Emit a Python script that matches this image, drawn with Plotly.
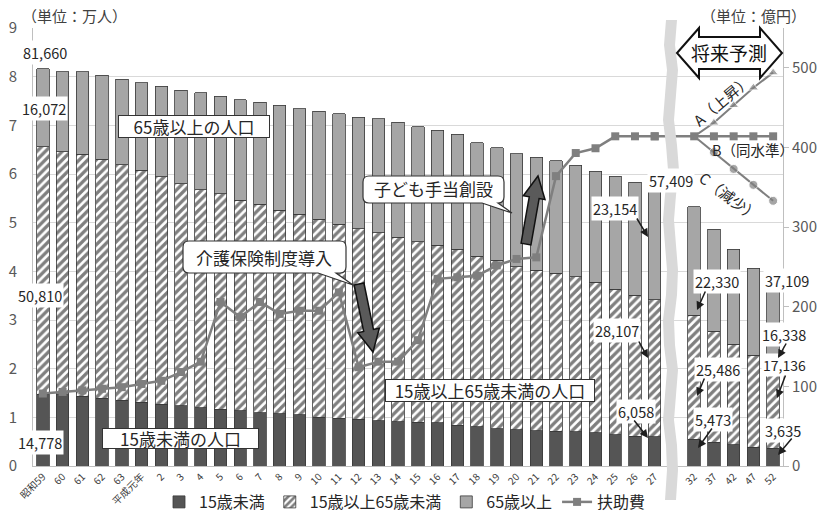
import math
import plotly.graph_objects as go

FONT = "Noto Sans CJK JP, Noto Sans, sans-serif"

# 年度（実績：昭和59〜平成27年度、推計：平成32〜52年度）
years = ["昭和59", "60", "61", "62", "63", "平成元年", "2", "3", "4", "5", "6", "7",
         "8", "9", "10", "11", "12", "13", "14", "15", "16", "17", "18", "19",
         "20", "21", "22", "23", "24", "25", "26", "27"]
gap = " "
proj_years = ["32", "37", "42", "47", "52"]
categories = years + [gap] + proj_years

# 年齢区分別人口（人）
under15 = [14778, 14600, 14300, 13900, 13500, 13100, 12700, 12400, 12000, 11700,
           11400, 10900, 10700, 10500, 10000, 9800, 9600, 9300, 9100, 9000,
           8900, 8400, 8100, 7700, 7400, 7200, 7100, 7000, 6800, 6400, 6100, 6058,
           None, 5473, 4900, 4400, 3900, 3635]
working = [50810, 50000, 49800, 49100, 48400, 47700, 46700, 45600, 44800, 44200,
           43200, 42900, 41900, 41200, 40700, 39900, 39200, 38600, 37900, 37100,
           36500, 36100, 35000, 34600, 33500, 33000, 32500, 31900, 31000, 29900,
           29000, 28107,
           None, 25486, 22800, 20600, 18900, 17136]
elderly = [16072, 16400, 16900, 17300, 17600, 18000, 18600, 19200, 19900, 20100,
           20700, 20900, 21500, 21700, 22200, 22700, 22900, 23500, 23600, 23600,
           23600, 23700, 23300, 23100, 23300, 23200, 23100, 22900, 22800, 23200,
           23200, 23154,
           None, 22330, 20900, 19500, 17800, 16338]
total_1984 = 81660
total_2015 = 57409
total_2040 = 37109

# 扶助費（億円）
welfare = [91, 93, 95, 97, 99, 103, 107, 118, 131, 206, 187, 206, 191, 195, 195,
           218, 124, 131, 131, 158, 235, 237, 239, 252, 260, 262, 364, 393, 399,
           414, 414, 414]
proj_a = [414, 431, 453, 475, 494]   # A（上昇）
proj_b = [414, 414, 414, 414, 414]   # B（同水準）
proj_c = [414, 394, 373, 353, 333]   # C（減少）


def man(vals):
    return [None if v is None else v / 10000 for v in vals]


def fmt(v):
    return f"{v:,}"


BAR_LINE = dict(color="#3a3a3a", width=0.8)
LINE_GREY = "#7f7f7f"

fig = go.Figure()
fig.add_trace(go.Bar(name="15歳未満", x=categories, y=man(under15),
                     marker=dict(color="#555555", line=BAR_LINE)))
fig.add_trace(go.Bar(name="15歳以上65歳未満", x=categories, y=man(working),
                     marker=dict(color="white", line=BAR_LINE,
                                 pattern=dict(shape="/", fgcolor="#000000",
                                              bgcolor="white", size=6,
                                              solidity=0.55))))
fig.add_trace(go.Bar(name="65歳以上", x=categories, y=man(elderly),
                     marker=dict(color="#a6a6a6", line=BAR_LINE)))

fig.add_trace(go.Scatter(name="扶助費", x=years, y=welfare, yaxis="y2",
                         mode="lines+markers",
                         line=dict(color=LINE_GREY, width=2.5),
                         marker=dict(symbol="square", size=8, color=LINE_GREY)))
fig.add_trace(go.Scatter(x=[years[-1], gap] + proj_years,
                         y=[welfare[-1], None] + proj_b, yaxis="y2",
                         mode="lines+markers", connectgaps=True, showlegend=False,
                         line=dict(color=LINE_GREY, width=2.5),
                         marker=dict(symbol="square", size=8, color=LINE_GREY)))
fig.add_trace(go.Scatter(x=proj_years, y=proj_a, yaxis="y2", mode="lines+markers",
                         showlegend=False, line=dict(color=LINE_GREY, width=2),
                         marker=dict(symbol="triangle-up", size=[0, 9, 9, 9, 9],
                                     color=LINE_GREY)))
fig.add_trace(go.Scatter(x=proj_years, y=proj_c, yaxis="y2", mode="lines+markers",
                         showlegend=False, line=dict(color=LINE_GREY, width=2),
                         marker=dict(symbol="circle", size=[0, 9, 9, 9, 9],
                                     color=LINE_GREY)))

# plot area in pixels
W, H = 818, 517
PL, PR, PT, PB = 33, 783, 28, 466


def P(x, y):
    return (x - PL) / (PR - PL), (PB - y) / (PB - PT)


def path(points, close=True):
    s = ""
    for i, (x, y) in enumerate(points):
        px, py = P(x, y)
        s += ("M" if i == 0 else "L") + f"{px:.5f},{py:.5f} "
    return s + ("Z" if close else "")


def callout(x0, y0, x1, y1, r, bx0, bx1, tx, ty):
    def p(x, y):
        a, b = P(x, y)
        return f"{a:.5f},{b:.5f}"
    return (f"M{p(x0 + r, y0)} L{p(x1 - r, y0)} Q{p(x1, y0)} {p(x1, y0 + r)} "
            f"L{p(x1, y1 - r)} Q{p(x1, y1)} {p(x1 - r, y1)} L{p(bx1, y1)} "
            f"L{p(tx, ty)} L{p(bx0, y1)} L{p(x0 + r, y1)} Q{p(x0, y1)} {p(x0, y1 - r)} "
            f"L{p(x0, y0 + r)} Q{p(x0, y0)} {p(x0 + r, y0)} Z")


def block_arrow(tx, ty, hx, hy, w=5, hw=11, hl=22):
    dx, dy = hx - tx, hy - ty
    length = math.hypot(dx, dy)
    ux, uy = dx / length, dy / length
    nx, ny = -uy, ux
    bx, by = hx - ux * hl, hy - uy * hl
    pts = [(tx + nx * w, ty + ny * w), (bx + nx * w, by + ny * w),
           (bx + nx * hw, by + ny * hw), (hx, hy),
           (bx - nx * hw, by - ny * hw), (bx - nx * w, by - ny * w),
           (tx - nx * w, ty - ny * w)]
    return path(pts)


shapes = []
# wavy break between actual and projected years
left_edge = [(666, 20), (664, 45), (667, 70), (665, 95), (663, 120), (666, 145),
             (668, 170), (665, 195), (663, 220), (665, 245), (667, 270), (666, 295),
             (663, 320), (664, 345), (667, 370), (665, 395), (663, 420), (666, 445),
             (667, 470), (665, 500)]
band = left_edge + [(x + 11, y) for x, y in reversed(left_edge)]
shapes.append(dict(type="path", xref="paper", yref="paper", path=path(band),
                   fillcolor="#d9d9d9", line=dict(width=0), layer="above"))

# callout boxes
shapes.append(dict(type="path", xref="paper", yref="paper",
                   path=callout(183, 241, 346, 273, 6, 318, 336, 353, 285),
                   fillcolor="white", line=dict(color="#333333", width=1.2),
                   layer="above"))
shapes.append(dict(type="path", xref="paper", yref="paper",
                   path=callout(363, 176, 504, 203, 6, 482, 498, 512, 213),
                   fillcolor="white", line=dict(color="#333333", width=1.2),
                   layer="above"))

# block arrows
shapes.append(dict(type="path", xref="paper", yref="paper",
                   path=block_arrow(359, 284, 373, 352),
                   fillcolor="#5a5a5a", line=dict(color="#111111", width=1.5),
                   layer="above"))
shapes.append(dict(type="path", xref="paper", yref="paper",
                   path=block_arrow(526, 244, 538, 176),
                   fillcolor="#5a5a5a", line=dict(color="#111111", width=1.5),
                   layer="above"))

# 将来予測 double arrow
dbl = [(677, 53), (699, 28), (699, 37), (760, 37), (760, 28), (782, 53),
       (760, 78), (760, 69), (699, 69), (699, 78)]
shapes.append(dict(type="path", xref="paper", yref="paper", path=path(dbl),
                   fillcolor="white", line=dict(color="#111111", width=2),
                   layer="above"))

annotations = []


def note(text, x, y, size=14.5, bg=None, border=None, w=None, h=None, angle=0,
         color="#262626", anchor="center"):
    px, py = P(x, y)
    d = dict(text=text, x=px, y=py, xref="paper", yref="paper", showarrow=False,
             xanchor=anchor, yanchor="middle", textangle=angle,
             font=dict(size=size, color=color, family=FONT))
    if bg:
        d["bgcolor"] = bg
    if border:
        d.update(bordercolor=border, borderwidth=1, borderpad=0)
    if w:
        d["width"] = w
    if h:
        d["height"] = h
    annotations.append(d)


def pointer(tx, ty, hx, hy):
    px, py = P(hx, hy)
    annotations.append(dict(text="", x=px, y=py, xref="paper", yref="paper",
                            showarrow=True, ax=tx - hx, ay=ty - hy,
                            arrowhead=2, arrowsize=1.1, arrowwidth=1.5,
                            arrowcolor="#1e1e1e", standoff=0))


# units
note("（単位：万人）", 20, 15, size=15, color="#404040", anchor="left")
note("（単位：億円）", 808, 15, size=15, color="#404040", anchor="right")

# group labels
note("65歳以上の人口", 194, 126, size=17, bg="white", border="#333333", w=150, h=21)
note("15歳未満の人口", 180, 438, size=17, bg="white", border="#333333", w=155, h=19)
note("15歳以上65歳未満の人口", 490, 390, size=17, bg="white", border="#333333",
     w=208, h=21)
note("介護保険制度導入", 264, 257, size=17)
note("子ども手当創設", 433, 189, size=17)
note("将来予測", 729, 53, size=19, color="#111111")

# projection labels
note("A（上昇）", 721, 100, size=15, angle=-40)
note("B（同水準）", 753, 149, size=14.5)
note("C（減少）", 730, 196, size=15, angle=37)

# value labels
note(fmt(total_1984), 45, 53, bg="white")
note(fmt(elderly[0]), 44, 108, bg="white")
note(fmt(working[0]), 40, 295, bg="white")
note(fmt(under15[0]), 40, 442, bg="white")
note(fmt(total_2015), 671, 180, bg="white")
note(fmt(elderly[31]), 615, 208, bg="white")
note(fmt(working[31]), 617, 330, bg="white")
note(fmt(under15[31]), 636, 411, bg="white")
note(fmt(elderly[33]), 717, 281, bg="white")
note(fmt(working[33]), 718, 369, bg="white")
note(fmt(under15[33]), 713, 419, bg="white")
note(fmt(total_2040), 787, 280, bg="white")
note(fmt(elderly[-1]), 784, 334, bg="white")
note(fmt(working[-1]), 784, 365, size=14, bg="white")
note(fmt(under15[-1]), 783, 430, bg="white")

pointer(636, 217, 648, 237)
pointer(638, 340, 648, 358)
pointer(633, 419, 648, 438)
pointer(706, 290, 697, 310)
pointer(705, 377, 697, 396)
pointer(713, 427, 698, 448)
pointer(787, 342, 778, 358)
pointer(786, 374, 777, 398)
pointer(793, 437, 778, 455)

fig.update_layout(
    width=W, height=H,
    margin=dict(l=PL, r=W - PR, t=PT, b=H - PB, autoexpand=False),
    paper_bgcolor="white", plot_bgcolor="white",
    barmode="stack", bargap=0.37,
    font=dict(family=FONT, color="#262626"),
    legend=dict(orientation="h", xref="container", yref="container",
                x=405 / W, xanchor="center", y=1 - 502 / H, yanchor="middle",
                font=dict(size=16, color="#262626"),
                traceorder="normal", bgcolor="rgba(0,0,0,0)"),
    xaxis=dict(type="category", categoryorder="array", categoryarray=categories,
               range=[-0.5, len(categories) - 0.5], tickangle=-45,
               tickfont=dict(size=10, color="#404040"), showgrid=False,
               showline=True, linecolor="#bfbfbf", ticks="", automargin=False),
    yaxis=dict(range=[0, 9], dtick=1, showgrid=True, gridcolor="#d9d9d9",
               showline=True, linecolor="#bfbfbf", zeroline=False, ticks="",
               tickfont=dict(size=15, color="#595959"), ticklabelstandoff=12,
               automargin=False),
    yaxis2=dict(overlaying="y", side="right", range=[0, 550],
                tickvals=[0, 100, 200, 300, 400, 500], showgrid=False,
                zeroline=False, showline=True, linecolor="#bfbfbf",
                ticks="outside", ticklen=5, tickcolor="#bfbfbf",
                tickfont=dict(size=15, color="#595959"), automargin=False),
    shapes=shapes, annotations=annotations,
)

fig.write_html("out.html")
